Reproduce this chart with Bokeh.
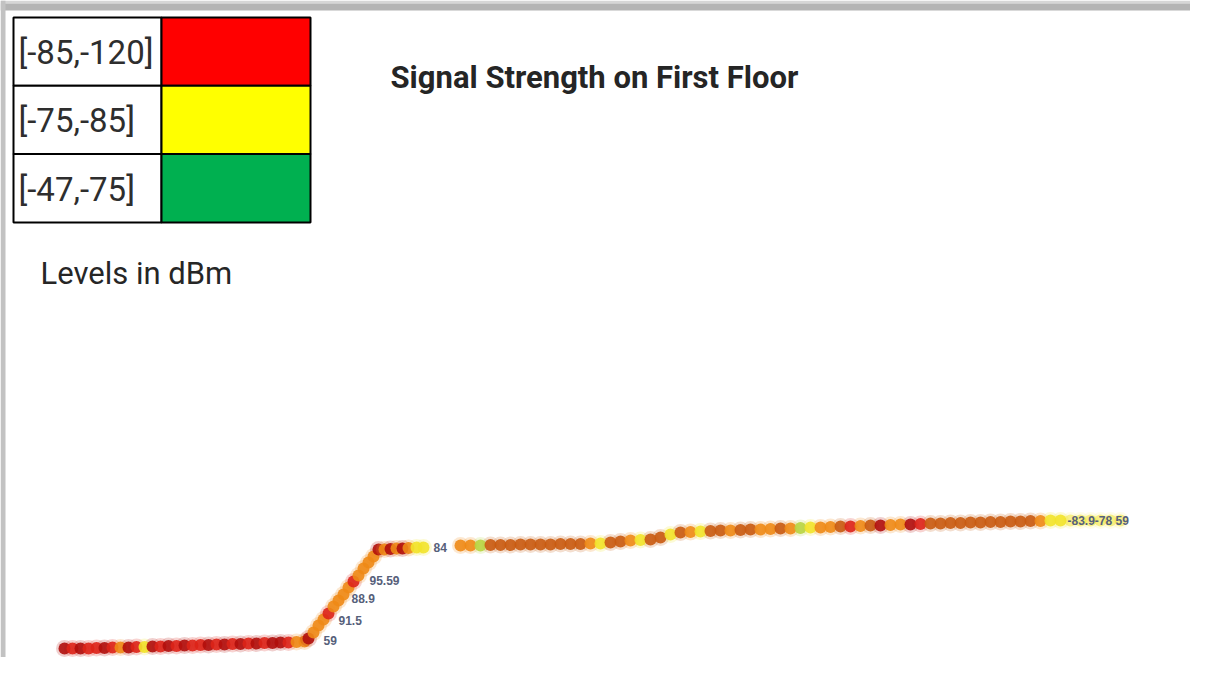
from bokeh.plotting import figure
from bokeh.models import Range1d, ColumnDataSource
from bokeh.core.properties import value
from bokeh.embed import file_html
from bokeh.resources import INLINE

# ---------------- data ----------------
title_text = "Signal Strength on First Floor"
legend_labels = ["[-85,-120]", "[-75,-85]", "[-47,-75]"]
legend_colors = ["#ff0000", "#ffff00", "#00b050"]
units_text = "Levels in dBm"

# measurement points along the corridor route (floor-plan coordinates)
seg_a_x = [64, 72, 80, 88, 96, 104, 112, 120, 128, 136, 144, 152, 160, 168, 176, 184,
           192, 200, 208, 216, 224, 232, 240, 248, 256, 264, 272, 280, 288, 296, 304]
seg_a_y = [648, 648, 648, 648, 647.5, 647.5, 647, 647, 647, 646.5, 646.5, 646, 646, 645.5,
           645.5, 645, 645, 644.5, 644.5, 644, 644, 643.5, 643.5, 643, 643, 642.5, 642.5,
           642, 642, 641.5, 641]
seg_a_dbm = [-97, -92, -96, -90, -93, -97, -91, -82, -96, -92, -79, -95, -91, -97, -93, -96,
             -90, -94, -97, -92, -95, -91, -96, -93, -97, -92, -95, -98, -91, -83, -84]

seg_b_x = [308, 313, 318, 323, 328, 333, 338, 343, 348, 353, 358, 363, 368, 373, 378]
seg_b_y = [638, 632, 625, 619, 613, 606, 600, 594, 587, 581, 575, 568, 562, 556, 549]
seg_b_dbm = [-96, -83, -82, -84, -92, -83, -82, -84, -83, -93, -82, -84, -83, -84, -95]

seg_c_x = [384, 390, 396, 402, 408, 416, 423]
seg_c_y = [549, 548.5, 548, 548, 547.5, 547, 547]
seg_c_dbm = [-84, -95, -83, -96, -84, -77, -76]

seg_d_x = [460, 470, 480, 490, 500, 510, 520, 530, 540, 550, 560, 570, 580, 590, 600, 610,
           620, 630, 640, 650, 660, 670, 680, 690, 700, 710, 720, 730, 740, 750, 760, 770,
           780, 790, 800, 810, 820, 830, 840, 850, 860, 870, 880, 890, 900, 910, 920, 930,
           940, 950, 960, 970, 980, 990, 1000, 1010, 1020, 1030, 1040, 1050, 1060]
seg_d_y = [545, 545, 545, 544.5, 544.5, 544.5, 544, 544, 544, 544, 543.5, 543.5, 543.5, 543,
           543, 542, 541, 540, 539.5, 539, 537, 534, 532, 531.5, 531, 530.5, 530, 530, 529.5,
           529, 529, 528.5, 528, 528, 527.5, 527, 527, 526.5, 526, 526, 525.5, 525, 525,
           524.5, 524, 524, 523.5, 523, 523, 522.5, 522.5, 522, 522, 521.5, 521.5, 521, 521,
           520.5, 520.5, 520, 520]
seg_d_dbm = [-83, -82, -74, -88, -87, -89, -88, -87, -89, -88, -87, -89, -88, -84, -79, -87,
             -88, -84, -78, -88, -87, -80, -88, -84, -79, -88, -87, -83, -88, -87, -84, -82,
             -88, -84, -75, -77, -84, -83, -87, -91, -84, -88, -97, -83, -84, -96, -92, -88,
             -87, -89, -88, -87, -89, -88, -87, -88, -89, -86, -84, -78, -76]

seg_e_x = [1070, 1080, 1090, 1100, 1110, 1120]
seg_e_y = [520, 520, 520, 520, 520, 520]
seg_e_dbm = [-78, -77, -78, -77, -79, -78]

label_text = ["59", "91.5", "88.9", "95.59", "84", "-83.9-78 59"]
label_x = [323, 338, 351, 369, 433, 1067]
label_y = [640, 620, 598, 580, 547, 520]

# display colours for measured values (blurred map look)
bin_edges = [-95, -90, -86, -81, -76]
bin_colors = ["#b00e0c", "#dd2418", "#c95a10", "#ee8a16", "#f2e32a", "#b8d440"]


def color_for(v):
    for edge, c in zip(bin_edges, bin_colors):
        if v <= edge:
            return c
    return bin_colors[-1]


# ---------------- figure ----------------
W, H = 1190, 657
p = figure(width=W, height=H, output_backend="svg", toolbar_location=None,
           x_range=Range1d(0, W), y_range=Range1d(H, 0),
           min_border=0, outline_line_color=None)
p.axis.visible = False
p.grid.visible = False
p.background_fill_color = "white"
p.border_fill_color = "white"

# window chrome (grey frame at top and left)
p.quad(left=[0, 0, 0], right=[W, W, 5], top=[0, 3, 0], bottom=[3, 10, H],
       fill_color=["#d6d6d6", "#b4b4b4", "#c2c2c2"], line_color=None)

# legend table
n = len(legend_labels)
tx0, tx1, tx2 = 13, 161, 310
ty0, row_h = 17, 68.3
tops = [ty0 + i * row_h for i in range(n)]
bots = [ty0 + (i + 1) * row_h for i in range(n)]
p.quad(left=[tx0] * n, right=[tx1] * n, top=tops, bottom=bots,
       fill_color="white", line_color="black", line_width=2)
p.quad(left=[tx1] * n, right=[tx2] * n, top=tops, bottom=bots,
       fill_color=legend_colors, line_color="black", line_width=2)
p.text(x=[tx0 + 5] * n, y=[(t + b) / 2 + 1 for t, b in zip(tops, bots)], text=legend_labels,
       text_font=value("Roboto"), text_font_size="33px",
       text_color="#2e2e2e", text_baseline="middle", text_align="left")

p.text(x=[40], y=[273], text=[units_text], text_font=value("Roboto"),
       text_font_size="31px", text_color="#262626", text_baseline="middle", text_align="left")

p.text(x=[390], y=[77], text=[title_text], text_font=value("Roboto"),
       text_font_style="bold", text_font_size="31px", text_color="#252525",
       text_baseline="middle", text_align="left")

# route measurements: soft halo (blur) then the dots
for xs, ys, vs, alpha in [(seg_a_x, seg_a_y, seg_a_dbm, 0.9),
                          (seg_b_x, seg_b_y, seg_b_dbm, 0.9),
                          (seg_c_x, seg_c_y, seg_c_dbm, 0.9),
                          (seg_d_x, seg_d_y, seg_d_dbm, 0.9),
                          (seg_e_x, seg_e_y, seg_e_dbm, 0.5)]:
    src = ColumnDataSource(dict(x=xs, y=ys, c=[color_for(v) for v in vs]))
    p.scatter("x", "y", source=src, size=17, marker="circle", fill_color="c",
              line_color=None, fill_alpha=alpha * 0.22)
    p.scatter("x", "y", source=src, size=12, marker="circle", fill_color="c",
              line_color=None, fill_alpha=alpha)

p.text(x=label_x, y=label_y, text=label_text, text_font=value("Liberation Sans"),
       text_font_size="12px", text_font_style="bold", text_color="#56607a",
       text_baseline="middle", text_align="left")

open("out.html", "w").write(file_html(p, INLINE))
